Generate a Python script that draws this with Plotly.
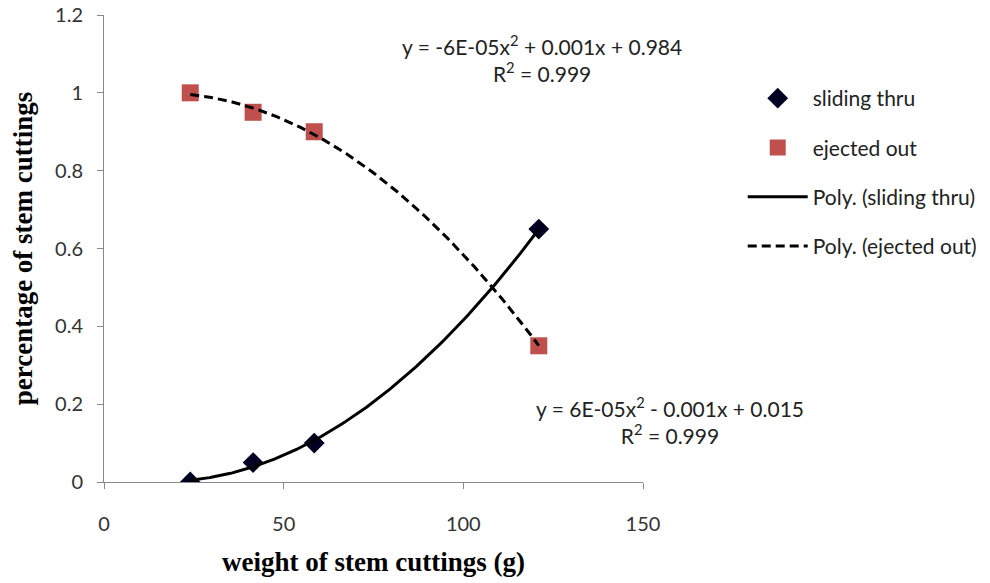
import numpy as np
import plotly.graph_objects as go

weights = [24, 41.5, 58.5, 121]
sliding_thru = [0.0, 0.05, 0.10, 0.65]
ejected_out = [1.0, 0.95, 0.90, 0.35]

x_ticks = [0, 50, 100, 150]
y_ticks = [0, 0.2, 0.4, 0.6, 0.8, 1.0, 1.2]
y_tick_text = ["0", "0.2", "0.4", "0.6", "0.8", "1", "1.2"]

eq_sliding = "y = 6E-05x<sup>2</sup> - 0.001x + 0.015<br>R<sup>2</sup> = 0.999"
eq_ejected = "y = -6E-05x<sup>2</sup> + 0.001x + 0.984<br>R<sup>2</sup> = 0.999"

# quadratic trendlines fitted to the data
xs = np.linspace(min(weights), max(weights), 200)
fit_s = np.polyval(np.polyfit(weights, sliding_thru, 2), xs)
fit_e = np.polyval(np.polyfit(weights, ejected_out, 2), xs)

fig = go.Figure()
fig.add_trace(go.Scatter(x=weights, y=sliding_thru, mode="markers", name="sliding thru",
                         marker=dict(symbol="diamond", size=16, color="#000022"),
                         legendgroup="a"))
fig.add_trace(go.Scatter(x=weights, y=ejected_out, mode="markers", name="ejected out",
                         marker=dict(symbol="square", size=17, color="#C0504D"),
                         legendgroup="b"))
fig.add_trace(go.Scatter(x=xs, y=fit_s, mode="lines", name="Poly. (sliding thru)",
                         line=dict(color="black", width=3), legendgroup="c"))
fig.add_trace(go.Scatter(x=xs, y=fit_e, mode="lines", name="Poly. (ejected out)",
                         line=dict(color="black", width=3, dash="9px,5px"), legendgroup="d"))

tick_font = dict(family="Lato, Open Sans, sans-serif", size=20, color="#333333")
title_font = dict(family="Liberation Serif, Times New Roman, serif", size=27, color="black")
ann_font = dict(family="Lato, Open Sans, sans-serif", size=21, color="#222222")

# page has an 8px body margin, so the figure is sized and offset accordingly
fig.update_layout(
    width=982, height=575,
    margin=dict(l=96, r=347, t=7, b=101),
    paper_bgcolor="white", plot_bgcolor="white",
    showlegend=True,
    legend=dict(x=1.185, y=0.865, xanchor="left", yanchor="top",
                font=dict(family="Lato, Open Sans, sans-serif", size=21, color="#222222"),
                traceorder="grouped", tracegroupgap=19, itemwidth=60),
    xaxis=dict(range=[0, 150], tickvals=x_ticks, showgrid=False, zeroline=False,
               showline=True, linecolor="#888888", linewidth=1, automargin=False,
               ticks="outside", ticklen=6, tickcolor="#888888", ticklabelstandoff=18,
               tickfont=tick_font, ticklabeloverflow="allow",
               title=dict(text="<b>weight of stem cuttings (g)</b>", standoff=18, font=title_font)),
    yaxis=dict(range=[0, 1.2], tickvals=y_ticks, ticktext=y_tick_text, showgrid=False, zeroline=False,
               showline=True, linecolor="#888888", linewidth=1, automargin=False,
               ticks="outside", ticklen=6, tickcolor="#888888", ticklabelstandoff=10,
               tickfont=tick_font, ticklabeloverflow="allow",
               title=dict(text="<b>percentage of stem cuttings</b>", standoff=27, font=title_font)),
    annotations=[
        dict(x=122, y=1.087, xref="x", yref="y", text=eq_ejected, showarrow=False,
             font=ann_font, align="center", xanchor="center"),
        dict(x=1.05, y=0.157, xref="paper", yref="y", text=eq_sliding, showarrow=False,
             font=ann_font, align="center", xanchor="center"),
    ],
)
fig.write_html("out.html", config={"displayModeBar": False})
